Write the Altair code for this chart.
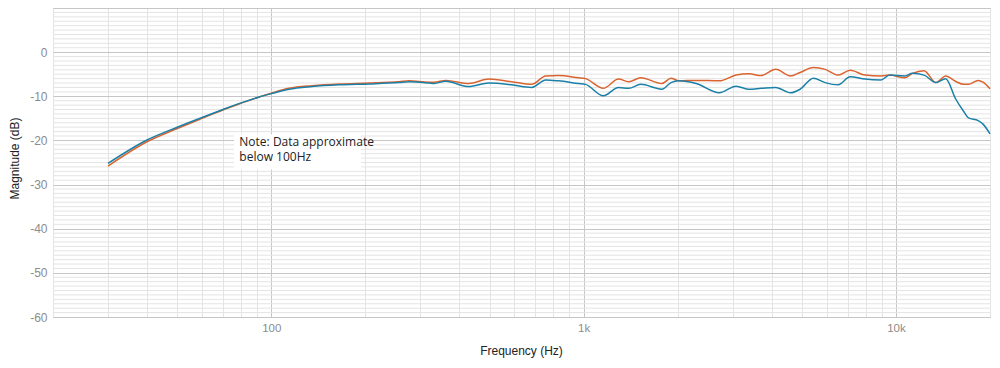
import altair as alt
import pandas as pd

# Frequency points (Hz)
freqs = [30, 40, 50, 60, 70, 80, 91, 100, 114, 135, 165, 206, 256, 276, 320, 332, 362, 429, 497, 588,
         682, 756, 830, 962, 1014, 1156, 1293, 1394, 1524, 1781, 1904, 2017, 2291, 2718, 3077, 3383,
         3700, 4122, 4596, 4933, 5436, 5936, 6531, 7138, 7959, 8948, 9553, 10663, 11293, 12300, 13420,
         14430, 15500, 16500, 17060, 18330, 19000, 20000]

# Series A (blue)
blue_db = [-25.2, -19.9, -17.0, -14.8, -13.0, -11.5, -10.2, -9.4, -8.4, -7.8, -7.4, -7.2, -6.9, -6.7, -7.0,
           -7.1, -6.6, -7.8, -7.0, -7.4, -8.0, -6.3, -6.5, -7.1, -7.3, -9.9, -8.0, -8.2, -7.3, -8.4, -6.9,
           -6.5, -7.1, -9.2, -7.7, -8.4, -8.2, -8.0, -9.2, -8.4, -5.9, -6.9, -7.4, -5.6, -6.1, -6.3, -5.2,
           -5.4, -4.8, -5.2, -6.9, -6.0, -10.5, -13.5, -14.9, -15.5, -16.3, -18.5]

# Series B (orange)
orange_db = [-25.8, -20.3, -17.3, -15.0, -13.1, -11.6, -10.2, -9.3, -8.2, -7.6, -7.2, -7.0, -6.7, -6.5, -6.8,
             -6.8, -6.4, -7.1, -6.1, -6.7, -7.3, -5.4, -5.3, -5.8, -6.0, -8.2, -6.1, -6.7, -5.8, -7.1, -5.9,
             -6.5, -6.4, -6.5, -5.2, -4.9, -5.3, -3.9, -5.4, -4.6, -3.5, -3.9, -5.2, -4.1, -5.2, -5.4, -5.2,
             -5.8, -4.8, -4.2, -6.9, -5.4, -6.6, -7.3, -7.3, -6.4, -6.8, -8.3]

series_names = ["Orange", "Blue"]
series_colors = ["#da6430", "#1a80a8"]

# Axis ticks / gridlines
x_ticks = [20, 30, 40, 50, 60, 70, 80, 90,
           100, 200, 300, 400, 500, 600, 700, 800, 900,
           1000, 2000, 3000, 4000, 5000, 6000, 7000, 8000, 9000,
           10000, 20000]
y_major = [-60, -50, -40, -30, -20, -10, 0, 10]
y_minor = [v for v in range(-60, 11) if v % 10 != 0]

# Annotation
note_text = "Note: Data approximate\nbelow 100Hz"
note_box_x = [76, 194]
note_box_y = [-18.6, -26.6]
note_pos = [79, -19.3]

rows = []
for f, o, b in zip(freqs, orange_db, blue_db):
    rows.append({"freq": f, "db": o, "series": "Orange"})
    rows.append({"freq": f, "db": b, "series": "Blue"})
df = pd.DataFrame(rows)

xscale = alt.Scale(type="log", domain=[20, 20000], nice=False)
yscale = alt.Scale(domain=[-60, 10], nice=False, zero=False)

xaxis = alt.Axis(
    values=x_ticks,
    labelExpr="datum.value == 100 ? '100' : datum.value == 1000 ? '1k' : datum.value == 10000 ? '10k' : ''",
    gridColor={"condition": {"test": "datum.value == 100 || datum.value == 1000 || datum.value == 10000",
                             "value": "#c6c6c6"}, "value": "#e4e4e4"},
    ticks=False, domain=False, labelPadding=5,
    titleX=468, titleY=28, titleBaseline="top", titleAlign="center",
    labelColor="#8c8c8c", labelFontSize=11.5, labelFont="Liberation Sans",
    titleColor="#222222", titleFontSize=12, titleFontWeight="normal", titleFont="Liberation Sans",
    labelFlush=False, labelOverlap=False,
)
yaxis = alt.Axis(
    values=y_major,
    labelExpr="datum.value <= 0 ? '' + datum.value : ''",
    gridColor="#c6c6c6",
    ticks=False, domain=False, labelPadding=6,
    titleX=-32, titleY=150, titleBaseline="bottom", titleAlign="center", titleAngle=-90,
    labelColor="#8c8c8c", labelFontSize=12, labelFont="Liberation Sans",
    titleColor="#222222", titleFontSize=12, titleFontWeight="normal", titleFont="Liberation Sans",
    labelOverlap=False, labelFlush=False,
)
XT = "Frequency (Hz)"
YT = "Magnitude (dB)"

minor_df = pd.DataFrame({"y": y_minor})
minor = alt.Chart(minor_df).mark_rule(color="#e4e4e4", strokeWidth=1).encode(
    y=alt.Y("y:Q", scale=yscale, axis=yaxis, title=YT)
)

box_df = pd.DataFrame([{"x": note_box_x[0], "x2": note_box_x[1], "y": note_box_y[0], "y2": note_box_y[1]}])
box = alt.Chart(box_df).mark_rect(color="white", opacity=1).encode(
    x=alt.X("x:Q", scale=xscale, axis=xaxis, title=XT), x2="x2",
    y=alt.Y("y:Q", scale=yscale, axis=yaxis, title=YT), y2="y2"
)

txt_df = pd.DataFrame([{"x": note_pos[0], "y": note_pos[1], "t": note_text}])
txt = alt.Chart(txt_df).mark_text(
    align="left", baseline="top", lineBreak="\n", lineHeight=15, fontSize=12,
    font="Open Sans", color="#222222"
).encode(
    x=alt.X("x:Q", scale=xscale, axis=xaxis, title=XT),
    y=alt.Y("y:Q", scale=yscale, axis=yaxis, title=YT),
    text="t:N",
)

lines = alt.Chart(df).mark_line(strokeWidth=1.5, interpolate="monotone").encode(
    x=alt.X("freq:Q", scale=xscale, axis=xaxis, title=XT),
    y=alt.Y("db:Q", scale=yscale, axis=yaxis, title=YT),
    color=alt.Color("series:N", scale=alt.Scale(domain=series_names, range=series_colors), legend=None),
    detail="series:N",
)

chart = alt.layer(minor, box, txt, lines).properties(
    width=937, height=309,
    autosize=alt.AutoSizeParams(type="none"),
    padding={"left": 45, "top": 0, "right": 2, "bottom": 43},
).configure_view(stroke="#bdbdbd", strokeWidth=1)

chart.save("out.html", embed_options={"renderer": "svg", "actions": False})
